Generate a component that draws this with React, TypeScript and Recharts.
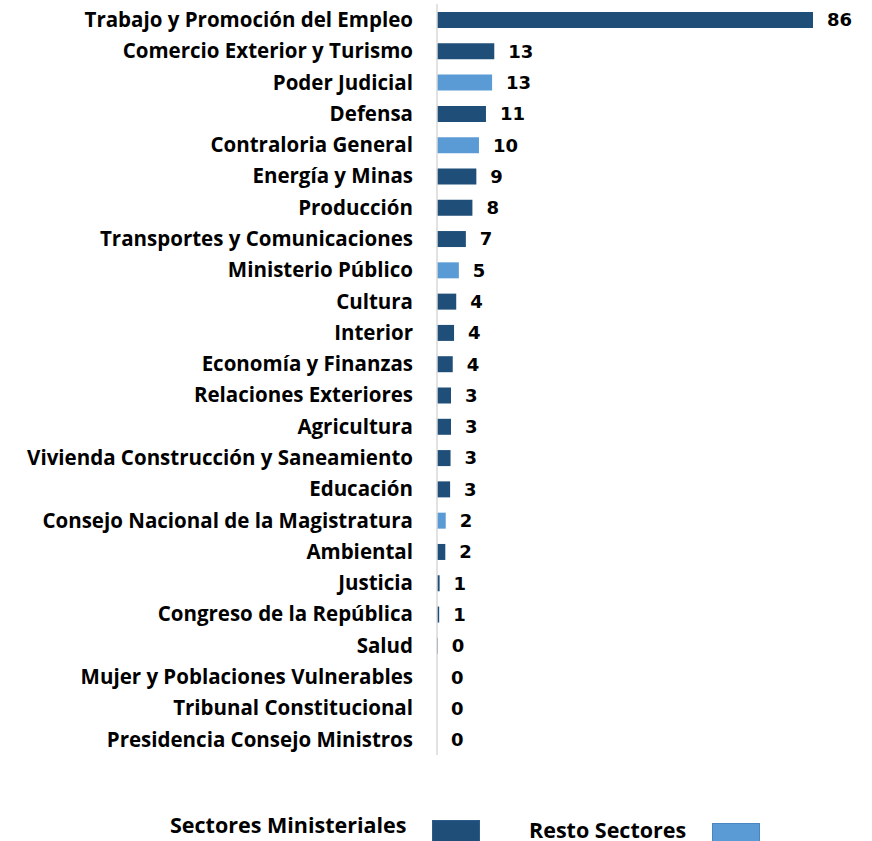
import { BarChart, Bar, XAxis, YAxis, Cell, LabelList } from "recharts";

const sectores = [
  "Trabajo y Promoción del Empleo",
  "Comercio Exterior y Turismo",
  "Poder Judicial",
  "Defensa",
  "Contraloria General",
  "Energía y Minas",
  "Producción",
  "Transportes y Comunicaciones",
  "Ministerio Público",
  "Cultura",
  "Interior",
  "Economía y Finanzas",
  "Relaciones Exteriores",
  "Agricultura",
  "Vivienda Construcción y Saneamiento",
  "Educación",
  "Consejo Nacional de la Magistratura",
  "Ambiental",
  "Justicia",
  "Congreso de la República",
  "Salud",
  "Mujer y Poblaciones Vulnerables",
  "Tribunal Constitucional",
  "Presidencia Consejo Ministros",
];

const valores = [86, 13.1, 12.6, 11.2, 9.6, 9.0, 8.1, 6.6, 5.0, 4.4, 3.9, 3.6, 3.2, 3.2, 3.1, 3.0, 2.0, 1.9, 0.6, 0.5, 0.2, 0, 0, 0];

// "M" = sector ministerial, "R" = resto de sectores
const grupo = ["M", "M", "R", "M", "R", "M", "M", "M", "R", "M", "M", "M", "M", "M", "M", "M", "R", "M", "M", "M", "M", "M", "M", "M"];

const leyenda = ["Sectores Ministeriales", "Resto Sectores"];

const OSCURO = "#1F4E79";
const CLARO = "#5B9BD5";

const data = sectores.map((s, i) => ({ sector: s, valor: valores[i], grupo: grupo[i] }));

const labelFont = "'Open Sans', Lato, sans-serif";

export default function App() {
  return (
    <div style={{ position: "absolute", left: 0, top: 0, width: 872, height: 841, background: "#fff", overflow: "hidden" }}>
      <BarChart
        width={872}
        height={841}
        data={data}
        layout="vertical"
        margin={{ top: 4, right: 59, left: 0, bottom: 86 }}
        barSize={16}
      >
        <XAxis type="number" domain={[0, 86]} hide />
        <YAxis
          type="category"
          dataKey="sector"
          width={437}
          interval={0}
          tickLine={false}
          tickSize={0}
          tickMargin={24}
          axisLine={{ stroke: "#d9d9d9", strokeWidth: 1.5 }}
          tick={{ fill: "#000", fontSize: 20.5, fontWeight: 700, fontFamily: labelFont }}
        />
        <Bar dataKey="valor" isAnimationActive={false} minPointSize={0.01}>
          {data.map((d) => (
            <Cell key={d.sector} fill={d.grupo === "M" ? OSCURO : CLARO} />
          ))}
          <LabelList
            dataKey="valor"
            position="right"
            offset={14}
            formatter={(v: any) => Math.round(Number(v))}
            style={{ fill: "#000", fontSize: 18, fontWeight: 700, fontFamily: "'DejaVu Sans', Verdana, sans-serif" }}
          />
        </Bar>
      </BarChart>
      <div style={{ position: "absolute", left: 0, top: 0, width: 872, height: 841, fontFamily: labelFont, fontWeight: 700, color: "#000", pointerEvents: "none" }}>
        <span style={{ position: "absolute", left: 170, top: 815, fontSize: 21.5, lineHeight: "20px", whiteSpace: "nowrap" }}>{leyenda[0]}</span>
        <div style={{ position: "absolute", left: 432, top: 820, width: 46, height: 24, background: OSCURO, border: "1px solid #2c5c8a" }} />
        <span style={{ position: "absolute", left: 529, top: 820, fontSize: 21.5, lineHeight: "20px", whiteSpace: "nowrap" }}>{leyenda[1]}</span>
        <div style={{ position: "absolute", left: 712, top: 823, width: 46, height: 22, background: CLARO, border: "1px solid #4a86c0" }} />
      </div>
    </div>
  );
}
